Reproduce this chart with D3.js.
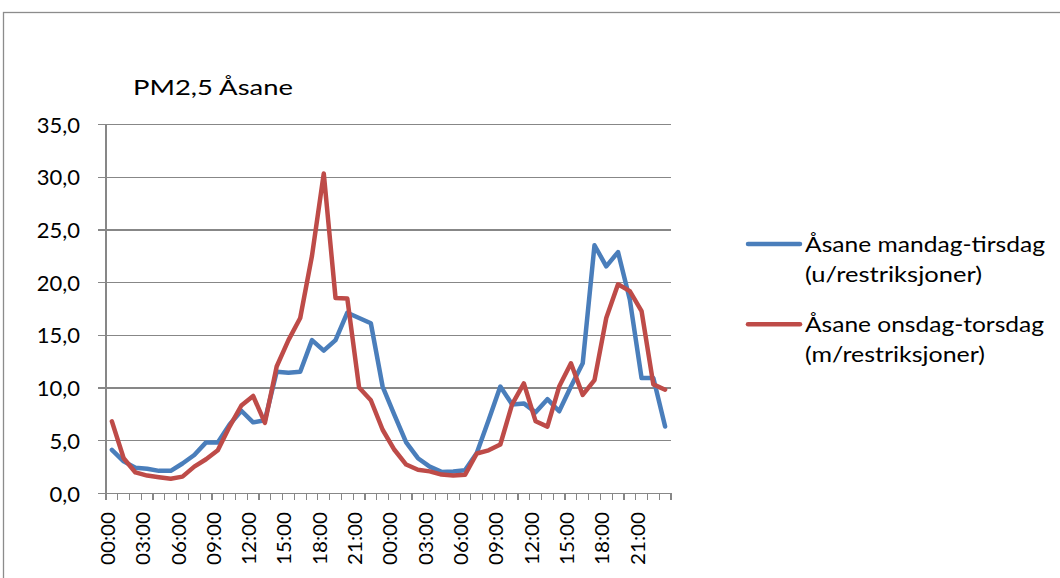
<!DOCTYPE html>
<html>
<head>
<meta charset="utf-8">
<script src="https://cdn.jsdelivr.net/npm/d3@7"></script>
<style>
  html, body { margin: 0; padding: 0; background: #fff; }
  svg { display: block; }
  text { font-family: Lato, "Open Sans", sans-serif; fill: #000; }
</style>
</head>
<body>
<svg id="chart" width="1060" height="578"></svg>
<script>
// ---- data ----
const title = "PM2,5 Åsane";
const hours = [];
for (let d = 0; d < 2; d++) for (let h = 0; h < 24; h++) hours.push((h < 10 ? "0" : "") + h + ":00");
const seriesNames = [
  ["Åsane mandag-tirsdag", "(u/restriksjoner)"],
  ["Åsane onsdag-torsdag", "(m/restriksjoner)"]
];
const blueValues = [
  4.1, 3.0, 2.4, 2.3, 2.1, 2.1, 2.8, 3.6, 4.8, 4.8, 6.5, 7.8,
  6.7, 6.9, 11.5, 11.4, 11.5, 14.5, 13.5, 14.5, 17.1, 16.6, 16.1, 10.1,
  7.4, 4.8, 3.3, 2.5, 2.0, 2.05, 2.15, 3.8, 6.9, 10.1, 8.4, 8.5,
  7.65, 8.9, 7.75, 10.1, 12.3, 23.5, 21.5, 22.85, 18.35, 10.9, 10.9, 6.3
];
const redValues = [
  6.8, 3.3, 1.95, 1.65, 1.5, 1.35, 1.55, 2.5, 3.2, 4.05, 6.3, 8.3,
  9.2, 6.65, 12.0, 14.5, 16.6, 22.5, 30.3, 18.5, 18.45, 10.0, 8.8, 6.0,
  4.1, 2.7, 2.2, 2.05, 1.75, 1.65, 1.72, 3.75, 4.05, 4.6, 8.4, 10.4,
  6.8, 6.3, 10.1, 12.3, 9.3, 10.7, 16.6, 19.8, 19.15, 17.25, 10.3, 9.8
];
const yTicks = [0, 5, 10, 15, 20, 25, 30, 35];
const colors = ["#4A7EBB", "#BE4B48"];

// ---- layout ----
const svg = d3.select("#chart");
const L = 106, R = 671, T = 124, B = 493;
const gridColor = "#878787";

// outer frame
svg.append("rect").attr("x", 3.5).attr("y", 12.5).attr("width", 1200).attr("height", 700)
  .attr("fill", "none").attr("stroke", "#8c8c8c").attr("stroke-width", 1.3);

const x = d3.scaleBand().domain(d3.range(hours.length)).range([L, R]).padding(0);
const y = d3.scaleLinear().domain([0, 35]).range([B, T]);
const locale = d3.formatLocale({decimal: ",", thousands: " ", grouping: [3], currency: ["", ""]});
const fmt = locale.format(".1f");

// y gridlines + ticks via axis
const yAxis = d3.axisLeft(y).tickValues(yTicks).tickSize(-(R - L + 8)).tickFormat(fmt).tickPadding(0);
const gy = svg.append("g").attr("transform", `translate(${L - 8},0)`).call(yAxis);
gy.select(".domain").remove();
gy.selectAll(".tick line").attr("stroke", gridColor).attr("stroke-width", 1.2).attr("shape-rendering", "crispEdges");
gy.selectAll(".tick text")
  .attr("x", 80 - (L - 8)).attr("dy", null).attr("y", 8)
  .attr("text-anchor", "end").style("font-size", "22px").attr("fill", "#000")
  .attr("font-family", null);

// y axis line
svg.append("line").attr("x1", L).attr("x2", L).attr("y1", T).attr("y2", B + 7)
  .attr("stroke", gridColor).attr("stroke-width", 1.2).attr("shape-rendering", "crispEdges");

// x axis minor ticks at category boundaries
const boundaries = d3.range(hours.length + 1);
svg.append("g").selectAll("line").data(boundaries).join("line")
  .attr("x1", i => i < hours.length ? x(i) : x(hours.length - 1) + x.bandwidth())
  .attr("x2", i => i < hours.length ? x(i) : x(hours.length - 1) + x.bandwidth())
  .attr("y1", B).attr("y2", B + 7)
  .attr("stroke", gridColor).attr("stroke-width", 1.2).attr("shape-rendering", "crispEdges");

// x labels every 3 hours
const labelIdx = d3.range(0, hours.length, 3);
svg.append("g").selectAll("text").data(labelIdx).join("text")
  .attr("transform", i => `translate(${x(i) + x.bandwidth() / 2 + 3},512) rotate(-90)`)
  .attr("text-anchor", "end")
  .attr("textLength", 53).attr("lengthAdjust", "spacingAndGlyphs")
  .style("font-size", "18.5px")
  .text(i => hours[i]);

// lines
const line = d3.line().x((d, i) => x(i) + x.bandwidth() / 2).y(d => y(d)).curve(d3.curveLinear);
[blueValues, redValues].forEach((vals, k) => {
  svg.append("path").datum(vals).attr("d", line)
    .attr("fill", "none").attr("stroke", colors[k]).attr("stroke-width", 4.5)
    .attr("stroke-linejoin", "round").attr("stroke-linecap", "round");
});

// title
svg.append("text").attr("x", 133).attr("y", 95).style("font-size", "22px")
  .attr("textLength", 160).attr("lengthAdjust", "spacingAndGlyphs").text(title);

// legend
const legY = [244, 324.3];
const legW = [[240, 177], [239, 180]];
seriesNames.forEach((names, k) => {
  const g = svg.append("g");
  g.append("line").attr("x1", 748).attr("x2", 800).attr("y1", legY[k]).attr("y2", legY[k])
    .attr("stroke", colors[k]).attr("stroke-width", 4.5).attr("stroke-linecap", "round");
  names.forEach((t, j) => {
    g.append("text").attr("x", 805).attr("y", legY[k] + 7.5 + j * 30.5)
      .style("font-size", "22px")
      .attr("textLength", legW[k][j]).attr("lengthAdjust", "spacingAndGlyphs")
      .text(t);
  });
});
</script>
</body>
</html>
